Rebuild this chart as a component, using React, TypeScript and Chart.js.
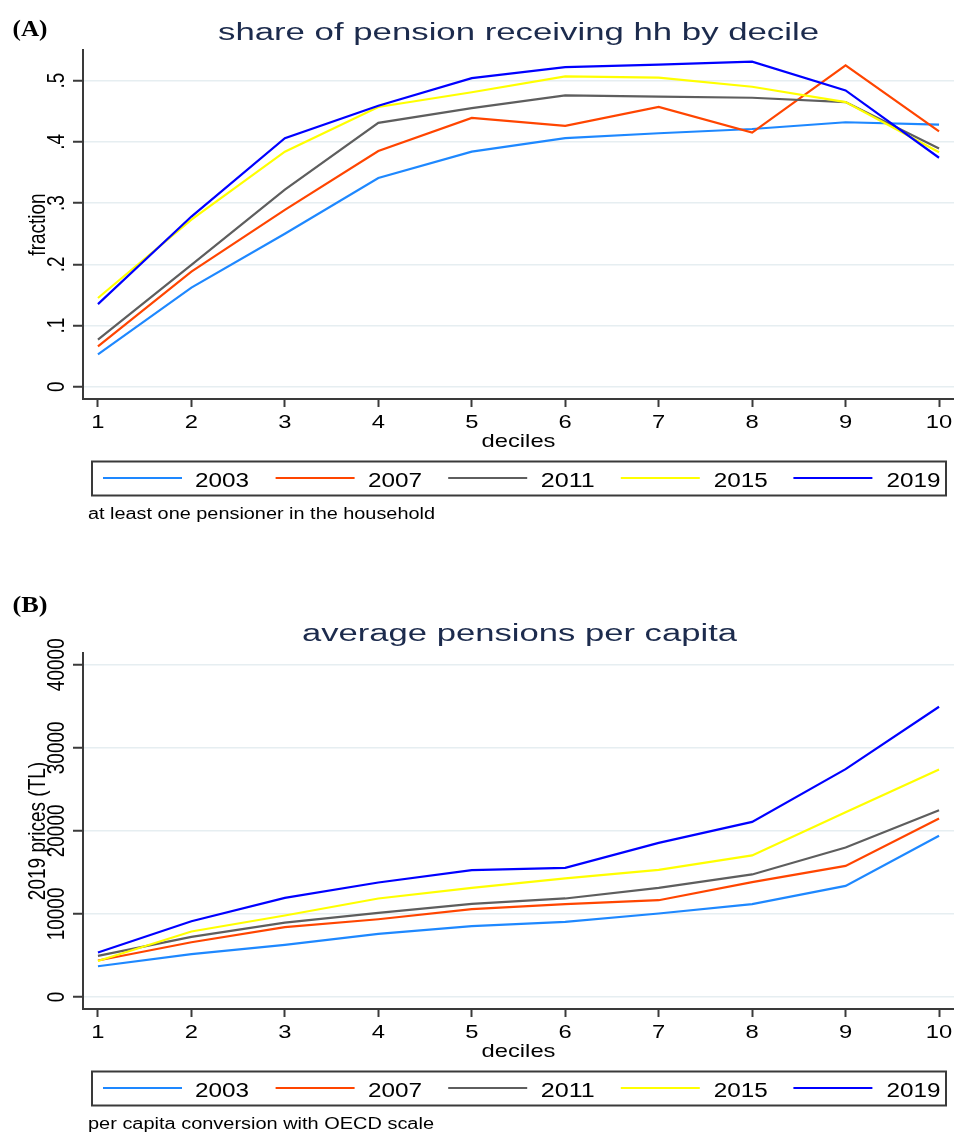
import React, { useEffect, useRef } from 'react';
import { Chart, registerables } from 'chart.js';

Chart.register(...registerables);

// ---------- data ----------
const deciles = [1, 2, 3, 4, 5, 6, 7, 8, 9, 10];
const years = ['2003', '2007', '2011', '2015', '2019'];

// Panel A: share of pension receiving households (fraction)
const shareA2003 = [0.053, 0.162, 0.25, 0.341, 0.384, 0.406, 0.414, 0.421, 0.432, 0.428];
const shareA2007 = [0.066, 0.188, 0.289, 0.385, 0.439, 0.426, 0.457, 0.415, 0.525, 0.417];
const shareA2011 = [0.077, 0.199, 0.322, 0.431, 0.455, 0.476, 0.474, 0.472, 0.465, 0.389];
const shareA2015 = [0.145, 0.273, 0.384, 0.457, 0.481, 0.507, 0.505, 0.49, 0.465, 0.383];
const shareA2019 = [0.135, 0.278, 0.406, 0.459, 0.504, 0.522, 0.526, 0.531, 0.484, 0.374];

// Panel B: average pensions per capita (2019 prices, TL)
const pensB2003 = [3700, 5150, 6270, 7590, 8520, 9040, 10050, 11170, 13370, 19400];
const pensB2007 = [4390, 6590, 8400, 9360, 10570, 11170, 11650, 13820, 15780, 21490];
const pensB2011 = [4940, 7230, 8960, 10120, 11200, 11860, 13130, 14750, 18000, 22490];
const pensB2015 = [4330, 7880, 9810, 11860, 13130, 14270, 15300, 17040, 22250, 27400];
const pensB2019 = [5350, 9120, 11930, 13780, 15270, 15540, 18550, 21080, 27430, 34940];

const yTicksA = [0, 0.1, 0.2, 0.3, 0.4, 0.5];
const yTickLabelsA = ['0', '.1', '.2', '.3', '.4', '.5'];
const yTicksB = [0, 10000, 20000, 30000, 40000];
const yTickLabelsB = ['0', '10000', '20000', '30000', '40000'];
const xTickLabels = ['1', '2', '3', '4', '5', '6', '7', '8', '9', '10'];

const titleA = 'share of pension receiving hh by decile';
const titleB = 'average pensions per capita';
const yTitleA = 'fraction';
const yTitleB = '2019 prices (TL)';
const xTitle = 'deciles';
const noteA = 'at least one pensioner in the household';
const noteB = 'per capita conversion with OECD scale';

// ---------- styles ----------
const colors = ['#1e88ff', '#ff4500', '#5e5e5e', '#ffff00', '#0000ff'];
const AXIS = '#3a3a3a';
const GRID = '#e6eef1';
const TITLE = '#1c2b4d';
const SANS = '"Liberation Sans", Arial, Helvetica, sans-serif';
const SERIF = '"Liberation Serif", "Times New Roman", serif';
const SX = 1.25;

type Panel = {
  canvasH: number;
  plotTop: number;
  plotBottom: number;
  yMin: number;
  yMax: number;
  yTicks: number[];
  yLabels: string[];
  series: number[][];
  tag: string;
  tagBaseline: number;
  title: string;
  titleLeft: number;
  titleWidth: number;
  titleBaseline: number;
  yTitle: string;
  note: string;
  noteWidth: number;
};

type TxtOpts = {
  size: number;
  family?: string;
  weight?: string;
  color?: string;
  align?: CanvasTextAlign;
  width?: number;
  sx?: number;
  rot?: boolean;
};

function txt(ctx: CanvasRenderingContext2D, s: string, x: number, y: number, o: TxtOpts) {
  ctx.save();
  ctx.font = `${o.weight || 'normal'} ${o.size}px ${o.family || SANS}`;
  ctx.fillStyle = o.color || '#000';
  ctx.textBaseline = 'alphabetic';
  const w = ctx.measureText(s).width;
  let sx = o.sx ?? 1;
  if (o.width) sx = o.width / w;
  ctx.translate(x, y);
  ctx.scale(sx, 1);
  if (o.rot) {
    ctx.rotate(-Math.PI / 2);
    ctx.textAlign = 'center';
  } else {
    ctx.textAlign = o.align || 'left';
  }
  ctx.fillText(s, 0, 0);
  ctx.restore();
}

function textPlugin(p: Panel) {
  return {
    id: 'stataText',
    afterDraw(chart: any) {
      const ctx: CanvasRenderingContext2D = chart.ctx;
      const xs = chart.scales.x;
      const ys = chart.scales.y;
      const area = chart.chartArea;
      const bottom = p.plotBottom;

      // panel tag
      txt(ctx, p.tag, 12.5, p.tagBaseline, { size: 23, family: SERIF, weight: 'bold', width: 35 });
      // title
      txt(ctx, p.title, p.titleLeft, p.titleBaseline, { size: 23, color: TITLE, width: p.titleWidth });

      // y tick labels (rotated)
      p.yTicks.forEach((v, i) => {
        txt(ctx, p.yLabels[i], 64, ys.getPixelForValue(v), { size: 19, rot: true, sx: SX });
      });
      // y title
      txt(ctx, p.yTitle, 45, (area.top + area.bottom) / 2, { size: 19, rot: true, sx: SX });

      // x tick labels
      deciles.forEach((d, i) => {
        txt(ctx, xTickLabels[i], xs.getPixelForValue(d), bottom + 29, { size: 19, align: 'center', sx: SX });
      });
      // x title
      txt(ctx, xTitle, (area.left + area.right) / 2, bottom + 48, { size: 19, align: 'center', sx: SX });

      // legend box
      const lt = bottom + 62.5;
      ctx.save();
      ctx.strokeStyle = AXIS;
      ctx.lineWidth = 2;
      ctx.strokeRect(92, lt, 854, 34);
      years.forEach((yr, i) => {
        const lx = 103 + 172.6 * i;
        ctx.strokeStyle = colors[i];
        ctx.lineWidth = 2;
        ctx.beginPath();
        ctx.moveTo(lx, lt + 16.5);
        ctx.lineTo(lx + 79, lt + 16.5);
        ctx.stroke();
        txt(ctx, yr, 195 + 172.9 * i, lt + 25, { size: 20, width: 54 });
      });
      ctx.restore();

      // note
      txt(ctx, p.note, 88, lt + 57, { size: 16, width: p.noteWidth });
    },
  };
}

function makeChart(canvas: HTMLCanvasElement, p: Panel) {
  const datasets = years.map((yr, i) => ({
    label: yr,
    data: deciles.map((d, j) => ({ x: d, y: p.series[i][j] })),
    borderColor: colors[i],
    backgroundColor: colors[i],
    borderWidth: 2.2,
    pointRadius: 0,
    fill: false,
    tension: 0,
    order: years.length - i,
  }));
  return new Chart(canvas, {
    type: 'line',
    data: { datasets },
    options: {
      animation: false,
      responsive: false,
      devicePixelRatio: 1,
      events: [],
      layout: { padding: { top: p.plotTop, left: 0, right: 0, bottom: 0 } },
      plugins: {
        legend: { display: false },
        title: { display: false },
        tooltip: { enabled: false },
      },
      scales: {
        x: {
          type: 'linear',
          min: 0.84,
          max: 10.16,
          afterBuildTicks: (s: any) => {
            s.ticks = deciles.map((v) => ({ value: v }));
          },
          afterFit: (s: any) => {
            s.height = p.canvasH - p.plotBottom;
          },
          ticks: { display: false },
          grid: {
            drawOnChartArea: false,
            drawTicks: true,
            tickLength: 8,
            tickColor: AXIS,
            tickWidth: 2,
          },
          border: { color: AXIS, width: 2 },
        },
        y: {
          type: 'linear',
          min: p.yMin,
          max: p.yMax,
          afterBuildTicks: (s: any) => {
            s.ticks = p.yTicks.map((v) => ({ value: v }));
          },
          afterFit: (s: any) => {
            s.width = 83;
          },
          ticks: { display: false },
          grid: {
            color: GRID,
            lineWidth: 1.5,
            drawTicks: true,
            tickLength: 10,
            tickColor: AXIS,
            tickWidth: 2,
          },
          border: { color: AXIS, width: 2 },
        },
      },
    } as any,
    plugins: [textPlugin(p)],
  });
}

const panelA: Panel = {
  canvasH: 545,
  plotTop: 50,
  plotBottom: 399,
  yMin: -0.02,
  yMax: 0.55,
  yTicks: yTicksA,
  yLabels: yTickLabelsA,
  series: [shareA2003, shareA2007, shareA2011, shareA2015, shareA2019],
  tag: '(A)',
  tagBaseline: 35.5,
  title: titleA,
  titleLeft: 218,
  titleWidth: 601,
  titleBaseline: 39.5,
  yTitle: yTitleA,
  note: noteA,
  noteWidth: 347,
};

const panelB: Panel = {
  canvasH: 572,
  plotTop: 93,
  plotBottom: 449,
  yMin: -1446,
  yMax: 41410,
  yTicks: yTicksB,
  yLabels: yTickLabelsB,
  series: [pensB2003, pensB2007, pensB2011, pensB2015, pensB2019],
  tag: '(B)',
  tagBaseline: 52,
  title: titleB,
  titleLeft: 302,
  titleWidth: 435,
  titleBaseline: 81,
  yTitle: yTitleB,
  note: noteB,
  noteWidth: 346,
};

export default function App() {
  const refA = useRef<HTMLCanvasElement>(null);
  const refB = useRef<HTMLCanvasElement>(null);
  useEffect(() => {
    const a = makeChart(refA.current as HTMLCanvasElement, panelA);
    const b = makeChart(refB.current as HTMLCanvasElement, panelB);
    return () => {
      a.destroy();
      b.destroy();
    };
  }, []);
  return (
    <div
      style={{
        position: 'absolute',
        left: 0,
        top: 0,
        width: 954,
        height: 1132,
        background: '#fff',
        overflow: 'hidden',
      }}
    >
      <canvas
        ref={refA}
        width={954}
        height={545}
        style={{ position: 'absolute', left: 0, top: 0, width: 954, height: 545 }}
      />
      <canvas
        ref={refB}
        width={954}
        height={572}
        style={{ position: 'absolute', left: 0, top: 560, width: 954, height: 572 }}
      />
    </div>
  );
}
